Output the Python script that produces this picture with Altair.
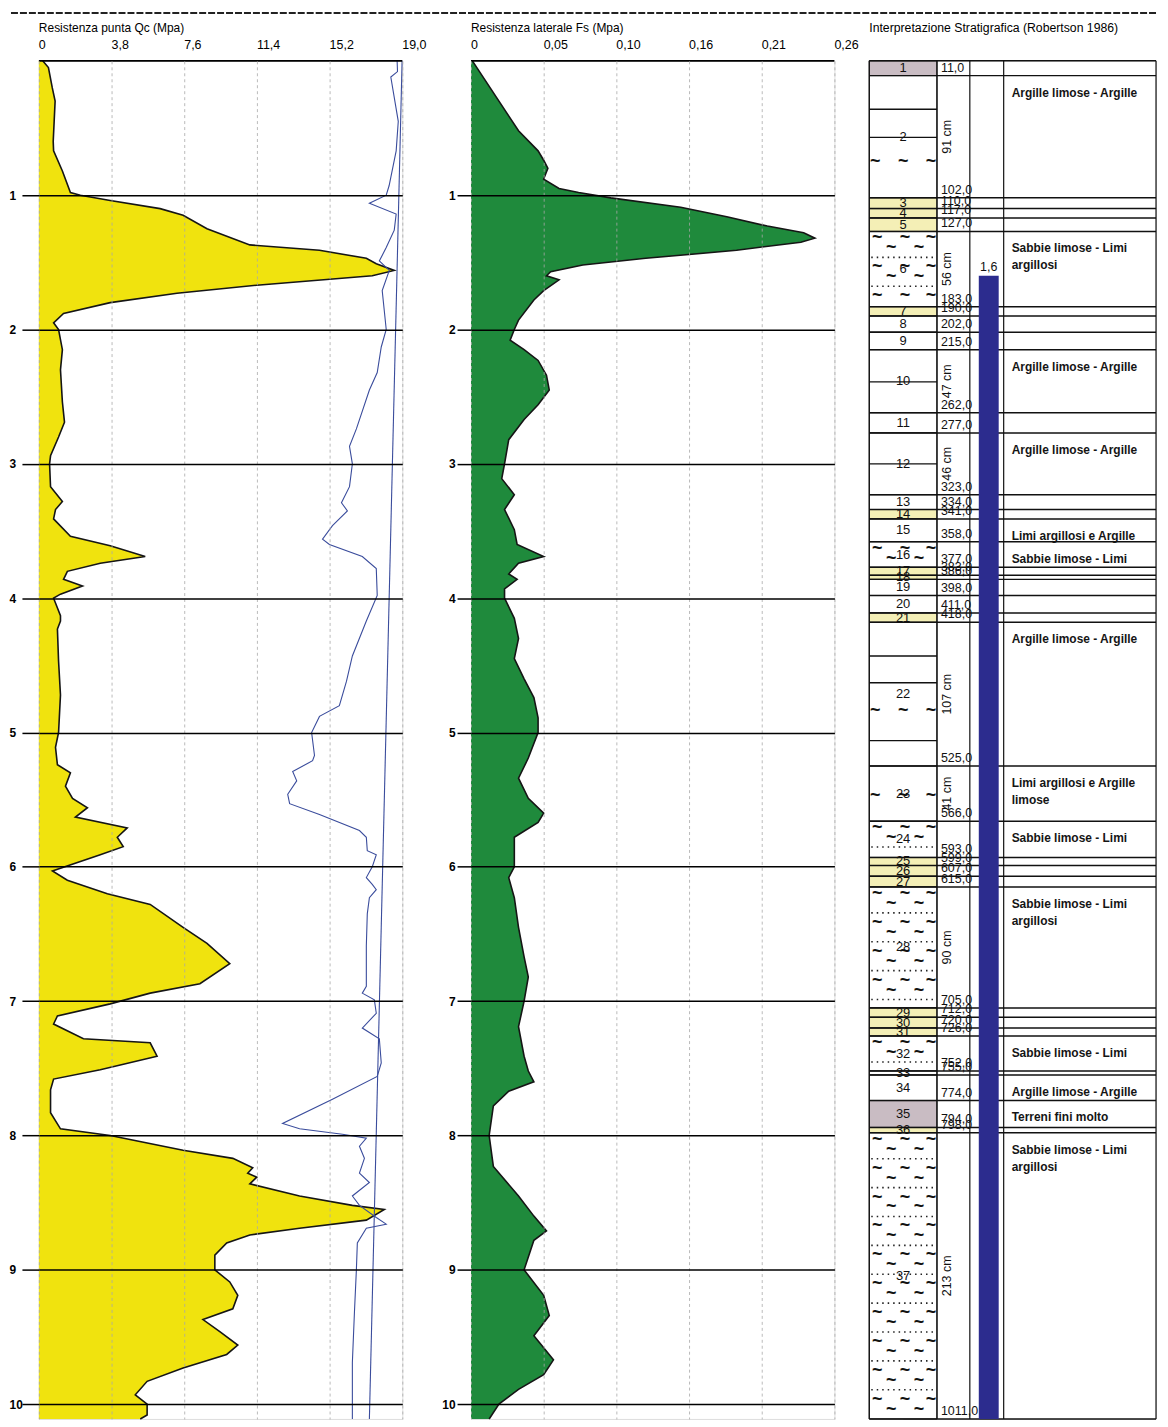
import altair as alt
import pandas as pd

FONT = "Liberation Sans"
PXM = 134.9          # layout constant: pixels per metre of depth
H = 1364
W1, W2 = 365, 365
W3_FULL = 288        # stratigraphic column drawn width
OFF = -34            # column drawn starting 34px left of its panel origin
W3 = W3_FULL + OFF

DEPTH_MAX = 10.11
DEPTH_TICKS = [1, 2, 3, 4, 5, 6, 7, 8, 9, 10]

TITLE_QC = "Resistenza punta Qc (Mpa)"
TITLE_FS = "Resistenza laterale Fs (Mpa)"
TITLE_STRAT = "Interpretazione Stratigrafica (Robertson 1986)"

QC_TICKS = [0, 3.8, 7.6, 11.4, 15.2, 19.0]
QC_TICK_LABELS = ["0", "3,8", "7,6", "11,4", "15,2", "19,0"]
FS_TICKS = [0, 0.052, 0.104, 0.156, 0.208, 0.26]
FS_TICK_LABELS = ["0", "0,05", "0,10", "0,16", "0,21", "0,26"]

# ---- cone resistance Qc (MPa) vs depth (m)
QC_DEPTH = [0.00, 0.05, 0.20, 0.30, 0.45, 0.60, 0.67, 0.82, 0.98, 1.00, 1.04, 1.10, 1.15, 1.25,
            1.37, 1.41, 1.47, 1.51, 1.56, 1.60, 1.67, 1.73, 1.80, 1.88, 1.95, 2.00, 2.15, 2.30,
            2.54, 2.69, 2.80, 2.94, 3.00, 3.17, 3.28, 3.34, 3.41, 3.54, 3.61, 3.69, 3.74, 3.80,
            3.86, 3.91, 3.97, 4.00, 4.13, 4.17, 4.23, 4.47, 4.72, 5.00, 5.11, 5.24, 5.30, 5.40,
            5.49, 5.56, 5.63, 5.71, 5.78, 5.85, 5.91, 6.03, 6.10, 6.20, 6.28, 6.45, 6.57, 6.72,
            6.87, 6.94, 7.02, 7.11, 7.17, 7.28, 7.31, 7.41, 7.51, 7.58, 7.66, 7.83, 7.95, 8.00,
            8.11, 8.17, 8.24, 8.28, 8.31, 8.36, 8.45, 8.52, 8.55, 8.63, 8.69, 8.74, 8.80, 8.89,
            9.00, 9.09, 9.19, 9.29, 9.37, 9.46, 9.56, 9.63, 9.73, 9.83, 9.93, 10.00, 10.08, 10.11]
QC_VALUE = [0.20, 0.50, 0.70, 0.85, 0.80, 0.75, 0.77, 1.23, 1.65, 2.17, 3.73, 6.34, 7.54, 8.79,
            11.03, 14.67, 17.12, 17.64, 18.58, 17.43, 11.39, 7.22, 3.73, 1.29, 0.77, 1.03, 1.23, 1.13,
            1.23, 1.34, 1.03, 0.61, 0.56, 0.61, 1.23, 0.87, 0.77, 1.65, 3.73, 5.56, 3.21, 1.49,
            1.29, 2.28, 1.13, 0.77, 1.13, 1.13, 0.97, 1.03, 1.13, 1.03, 0.87, 0.97, 1.65, 1.39,
            1.76, 2.54, 1.91, 4.62, 4.10, 4.41, 3.21, 0.71, 1.49, 3.58, 5.82, 7.54, 8.79, 9.98,
            8.42, 5.82, 3.73, 0.97, 0.77, 2.33, 5.82, 6.18, 3.21, 0.77, 0.61, 0.61, 1.13, 3.73,
            7.54, 10.14, 11.18, 10.92, 11.39, 11.03, 13.63, 16.39, 18.06, 17.12, 13.63, 11.03, 9.82, 9.20,
            9.20, 9.98, 10.40, 10.14, 8.58, 9.46, 10.40, 9.82, 7.54, 5.66, 5.04, 5.66, 5.66, 5.30]

# ---- second trace drawn in blue on the Qc panel (same axis units)
BLUE_DEPTH = [0.00, 0.08, 0.12, 0.45, 0.67, 0.93, 1.00, 1.06, 1.14, 1.26, 1.39, 1.49, 1.56, 1.71,
              2.00, 2.13, 2.32, 2.45, 2.74, 2.87, 3.00, 3.17, 3.29, 3.35, 3.46, 3.56, 3.60, 3.69,
              3.78, 3.98, 4.17, 4.43, 4.62, 4.80, 4.88, 5.00, 5.17, 5.21, 5.29, 5.36, 5.46, 5.53,
              5.61, 5.73, 5.78, 5.88, 5.91, 6.00, 6.08, 6.13, 6.17, 6.23, 6.35, 6.59, 6.89, 6.94,
              6.99, 7.09, 7.20, 7.28, 7.46, 7.56, 7.73, 7.91, 7.95, 7.99, 8.02, 8.08, 8.17, 8.28,
              8.35, 8.45, 8.52, 8.61, 8.66, 8.69, 8.80, 9.00, 9.31, 9.69, 10.11]
BLUE_VALUE = [18.73, 18.75, 18.40, 18.79, 18.68, 18.31, 18.16, 17.28, 18.68, 18.58, 18.16, 17.80, 18.32, 17.95,
              18.16, 17.90, 17.69, 17.28, 16.60, 16.24, 16.39, 16.24, 15.82, 16.13, 15.35, 14.83, 15.19, 16.91,
              17.64, 17.69, 17.12, 16.39, 16.08, 15.71, 14.67, 14.26, 14.41, 14.31, 13.27, 13.48, 13.01, 13.11,
              14.67, 16.76, 17.12, 17.17, 17.64, 17.43, 17.12, 17.43, 17.64, 17.28, 17.17, 17.12, 17.12, 16.91,
              17.54, 17.64, 16.91, 17.80, 17.90, 17.69, 15.35, 12.74, 13.63, 15.87, 17.12, 16.76, 17.02, 16.76,
              17.28, 16.39, 16.76, 17.64, 18.16, 17.12, 16.65, 16.60, 16.50, 16.39, 16.39]

TREND_DEPTH = [0.0, 10.11]
TREND_VALUE = [18.99, 17.28]

# ---- sleeve friction Fs (MPa) vs depth (m)
FS_DEPTH = [0.00, 0.30, 0.52, 0.67, 0.74, 0.80, 0.88, 0.95, 0.98, 1.02, 1.09, 1.16, 1.23, 1.28,
            1.32, 1.35, 1.41, 1.47, 1.52, 1.57, 1.60, 1.63, 1.71, 1.78, 1.93, 2.00, 2.08, 2.15,
            2.23, 2.34, 2.45, 2.56, 2.67, 2.82, 3.00, 3.11, 3.23, 3.34, 3.49, 3.60, 3.69, 3.74,
            3.82, 3.86, 3.93, 4.00, 4.15, 4.30, 4.45, 4.60, 4.74, 4.89, 5.00, 5.19, 5.34, 5.49,
            5.60, 5.67, 5.78, 5.93, 6.00, 6.08, 6.23, 6.45, 6.67, 6.82, 7.00, 7.19, 7.41, 7.52,
            7.60, 7.67, 7.78, 8.00, 8.23, 8.45, 8.60, 8.71, 8.78, 9.00, 9.19, 9.34, 9.49, 9.67,
            9.78, 9.89, 10.00, 10.11]
FS_VALUE = [0.001, 0.020, 0.034, 0.048, 0.052, 0.055, 0.052, 0.063, 0.077, 0.100, 0.150, 0.183, 0.212, 0.238,
            0.246, 0.236, 0.190, 0.125, 0.080, 0.057, 0.054, 0.063, 0.052, 0.045, 0.034, 0.031, 0.028, 0.038,
            0.048, 0.054, 0.056, 0.048, 0.038, 0.027, 0.024, 0.022, 0.031, 0.024, 0.031, 0.033, 0.052, 0.034,
            0.027, 0.033, 0.024, 0.024, 0.031, 0.034, 0.031, 0.038, 0.045, 0.048, 0.048, 0.041, 0.034, 0.041,
            0.052, 0.048, 0.031, 0.031, 0.031, 0.027, 0.031, 0.034, 0.038, 0.041, 0.038, 0.034, 0.038, 0.041,
            0.045, 0.027, 0.016, 0.013, 0.016, 0.034, 0.045, 0.054, 0.045, 0.038, 0.052, 0.056, 0.045, 0.059,
            0.052, 0.034, 0.020, 0.013]

# ---- stratigraphy (cm)
LAYER_NUM = list(range(1, 38))
LAYER_TOP = [0, 11, 102, 110, 117, 127, 183, 190, 202, 215, 262, 277, 323, 334, 341, 358, 377, 383,
             386, 398, 411, 418, 525, 566, 593, 599, 607, 615, 705, 712, 720, 726, 752, 755, 774, 794, 798]
LAYER_BOTTOM = LAYER_TOP[1:] + [1011]
LAYER_KIND = ["fine", "clay", "yellow", "yellow", "yellow", "sand", "yellow", "plain", "plain", "plain",
              "plain", "plain", "plain", "yellow", "plain", "sand", "yellow", "yellow", "plain", "plain",
              "yellow", "clay", "clay", "sand", "yellow", "yellow", "yellow", "sand", "yellow", "yellow",
              "yellow", "sand", "sand", "plain", "fine", "yellow", "sand"]
SUBLINE_CM = [36, 57, 239, 300, 443, 463, 506]
CLAY_MARKS = [(2, 0.71), (22, 0.62), (23, 0.55)]
WATER_TABLE = 1.6

DESC_LAYER = [2, 6, 10, 12, 15, 16, 22, 23, 24, 28, 32, 34, 35, 37]
DESC_LINES = [["Argille limose - Argille"],
              ["Sabbie limose - Limi", "argillosi"],
              ["Argille limose - Argille"],
              ["Argille limose - Argille"],
              ["Limi argillosi e Argille"],
              ["Sabbie limose - Limi"],
              ["Argille limose - Argille"],
              ["Limi argillosi e Argille", "limose"],
              ["Sabbie limose - Limi"],
              ["Sabbie limose - Limi", "argillosi"],
              ["Sabbie limose - Limi"],
              ["Argille limose - Argille"],
              ["Terreni fini molto"],
              ["Sabbie limose - Limi", "argillosi"]]

YELLOW = "#f0e30e"
GREEN = "#1f8a3c"
BLUE = "#3a4c9c"
NAVY = "#2c2c8e"
KIND_DOMAIN = ["fine", "yellow", "sand", "clay", "plain"]
KIND_RANGE = ["#c9bcc3", "#f4efb6", "#ffffff", "#ffffff", "#ffffff"]


def ys():
    return alt.Scale(domain=[0, DEPTH_MAX], reverse=True, nice=False, zero=False)


def y_axis(tick, pad, align):
    return alt.Axis(values=DEPTH_TICKS, format="d", grid=True, gridColor="black", gridWidth=1.5,
                    gridOpacity=1, tickColor="black", tickSize=tick, tickWidth=1.5, domain=False,
                    labelFont=FONT, labelFontSize=12, labelFontWeight="bold", labelColor="black",
                    labelPadding=pad, labelAlign=align, title=None, zindex=1)


def curve_panel(df, ticks, labels, xmax, width, fill, title, yax, extra):
    xs = alt.Scale(domain=[0, xmax], nice=False, zero=False)
    xa = alt.Axis(orient="top", values=ticks, labels=False, ticks=False, domain=False, grid=True,
                  gridColor="#a8a8a8", gridDash=[3, 3], gridWidth=0.8, gridOpacity=1, title=None, zindex=1)
    ysc = ys()

    def X(f):
        return alt.X(f, type="quantitative", scale=xs, axis=xa)

    def Y(f):
        return alt.Y(f, type="quantitative", scale=ysc, axis=yax)

    base = alt.Chart(df)
    area = base.mark_area(orient="horizontal", color=fill, opacity=1).encode(x=X("v"), y=Y("d"))
    outline = base.mark_line(color="#151515", strokeWidth=1.6).encode(x=X("v"), y=Y("d"), order="i:Q")
    layers = [area, outline]
    for e in extra:
        layers.append(alt.Chart(e).mark_line(color=BLUE, strokeWidth=1.1).encode(
            x=X("v"), y=Y("d"), order="i:Q"))
    top = alt.Chart(pd.DataFrame({"s": [0]})).mark_rule(color="black", strokeWidth=1.6).encode(
        x=alt.value(0), x2=alt.value(width), y=alt.value(0))
    tl = alt.Chart(pd.DataFrame({"t": ticks, "lab": labels})).mark_text(
        align="left", baseline="middle", font=FONT, fontSize=12.5, color="black").encode(
        x=X("t"), y=alt.value(-16), text="lab:N")
    tt = alt.Chart(pd.DataFrame({"s": [title]})).mark_text(
        align="left", baseline="middle", font=FONT, fontSize=12, color="black").encode(
        x=alt.value(0), y=alt.value(-33), text="s:N")
    layers += [top, tl, tt]
    return layers


def line_df(d, v):
    return pd.DataFrame({"d": d, "v": v, "i": range(len(d))})


qc_df = line_df(QC_DEPTH, QC_VALUE)
fs_df = line_df(FS_DEPTH, FS_VALUE)
blue_df = line_df(BLUE_DEPTH, BLUE_VALUE)
trend_df = line_df(TREND_DEPTH, TREND_VALUE)

p1_layers = curve_panel(qc_df, QC_TICKS, QC_TICK_LABELS, 19.0, W1, YELLOW, TITLE_QC,
                        y_axis(17, 13, "left"), [blue_df, trend_df])
page_line = alt.Chart(pd.DataFrame({"s": [0]})).mark_rule(
    color="#222", strokeWidth=2, strokeDash=[7, 2]).encode(
    x=alt.value(-28), x2=alt.value(1124), y=alt.value(-48))
p1 = alt.layer(*p1_layers, page_line).properties(width=W1, height=H)

p2_layers = curve_panel(fs_df, FS_TICKS, FS_TICK_LABELS, 0.26, W2, GREEN, TITLE_FS,
                        y_axis(14, 2, "right"), [])
p2 = alt.layer(*p2_layers).properties(width=W2, height=H)

# ---------------- stratigraphic column (x positions in px from column's left edge)
C1, C2, C3, C4 = 68, 101, 135, W3_FULL
BAR_L, BAR_R = 110, 130


def px(v):
    return alt.value(v + OFF)


lay = pd.DataFrame({
    "n": LAYER_NUM,
    "top": [t / 100 for t in LAYER_TOP],
    "bot": [b / 100 for b in LAYER_BOTTOM],
    "kind": LAYER_KIND,
    "lab": [f"{b},0" for b in LAYER_BOTTOM],
})
lay["mid"] = (lay["top"] + lay["bot"]) / 2
lay["thick"] = [f"{b - t} cm" if b - t >= 40 else "" for t, b in zip(LAYER_TOP, LAYER_BOTTOM)]

ysc3 = ys()
xs3 = alt.Scale(domain=[-OFF, W3_FULL], nice=False, zero=False)


def Y3(f):
    return alt.Y(f, type="quantitative", scale=ysc3, axis=None)


def X3(f):
    return alt.X(f, type="quantitative", scale=xs3, axis=None)


fills = alt.Chart(lay).mark_rect(stroke="black", strokeWidth=1).encode(
    x=px(0), x2=px(C1), y=Y3("top"), y2="bot:Q",
    color=alt.Color("kind:N", scale=alt.Scale(domain=KIND_DOMAIN, range=KIND_RANGE), legend=None))

# sand / clay ornament generated from the layer geometry
glyphs, dots = [], []
for t, b, k in zip(LAYER_TOP, LAYER_BOTTOM, LAYER_KIND):
    tm, bm = t / 100, b / 100
    if k == "sand" and (bm - tm) * PXM > 10:
        y0 = tm - 3 / PXM
        while y0 < bm:
            if tm + 3 / PXM < y0 < bm - 3 / PXM:
                dots.append({"y": y0})
            ya_ = y0 + 10 / PXM
            yb_ = y0 + 20 / PXM
            if tm + 4 / PXM < ya_ < bm - 4 / PXM:
                for xx in (8, 36, 62):
                    glyphs.append({"px": xx, "y": ya_})
            if tm + 4 / PXM < yb_ < bm - 4 / PXM:
                for xx in (22, 50):
                    glyphs.append({"px": xx, "y": yb_})
            y0 += 29 / PXM
for n, frac in CLAY_MARKS:
    tm, bm = LAYER_TOP[n - 1] / 100, LAYER_BOTTOM[n - 1] / 100
    for xx in (6, 34, 62):
        glyphs.append({"px": xx, "y": tm + frac * (bm - tm)})
glyph_df = pd.DataFrame(glyphs)
dot_df = pd.DataFrame(dots)

glyph_layer = alt.Chart(glyph_df).mark_text(
    text="~", font=FONT, fontSize=18, fontWeight="bold", color="#111", baseline="middle").encode(
    x=X3("px"), y=Y3("y"))
dot_layer = alt.Chart(dot_df).mark_rule(color="#222", strokeWidth=1.6, strokeDash=[1.5, 4]).encode(
    x=px(2), x2=px(C1 - 2), y=Y3("y"))

sub_df = pd.DataFrame({"y": [c / 100 for c in SUBLINE_CM]})
sub_layer = alt.Chart(sub_df).mark_rule(color="#111", strokeWidth=1.4).encode(
    x=px(0), x2=px(C1), y=Y3("y"))

bounds_df = pd.DataFrame({"y": [0] + [b / 100 for b in LAYER_BOTTOM]})
bound_layer = alt.Chart(bounds_df).mark_rule(color="#111", strokeWidth=1.5).encode(
    x=px(0), x2=px(C4), y=Y3("y"))

vlines = []
for xx in (0, C1, C2, C3, C4):
    vlines.append(alt.Chart(pd.DataFrame({"s": [0]})).mark_rule(color="#111", strokeWidth=1.2).encode(
        x=px(xx), y=alt.value(0), y2=alt.value(H)))

depth_labels = alt.Chart(lay).mark_text(
    align="left", baseline="bottom", font=FONT, fontSize=12.5, color="#111", dy=-1).encode(
    x=px(72), y=Y3("bot"), text="lab:N")
thick_labels = alt.Chart(lay[lay["thick"] != ""]).mark_text(
    align="center", baseline="middle", font=FONT, fontSize=12.5, color="#111", angle=270).encode(
    x=px(78), y=Y3("mid"), text="thick:N")
num_labels = alt.Chart(lay).mark_text(
    align="center", baseline="middle", font=FONT, fontSize=13, color="#111").encode(
    x=px(C1 / 2), y=Y3("mid"), text="n:N")

wt_df = pd.DataFrame({"w": [WATER_TABLE], "b": [DEPTH_MAX], "lab": [str(WATER_TABLE).replace(".", ",")]})
bar = alt.Chart(wt_df).mark_rect(color=NAVY).encode(
    x=px(BAR_L), x2=px(BAR_R), y=Y3("w"), y2="b:Q")
wt_label = alt.Chart(wt_df).mark_text(
    align="center", baseline="bottom", font=FONT, fontSize=12.5, color="#111", dy=-2).encode(
    x=px((BAR_L + BAR_R) / 2), y=Y3("w"), text="lab:N")

desc_rows = []
for n, lines in zip(DESC_LAYER, DESC_LINES):
    for j, s in enumerate(lines):
        desc_rows.append({"y": LAYER_TOP[n - 1] / 100 + (17 + 17 * j) / PXM, "s": s})
desc_df = pd.DataFrame(desc_rows)
desc = alt.Chart(desc_df).mark_text(
    align="left", baseline="middle", font=FONT, fontSize=12, fontWeight="bold", color="#151515").encode(
    x=px(C3 + 8), y=Y3("y"), text="s:N")

title3 = alt.Chart(pd.DataFrame({"s": [TITLE_STRAT]})).mark_text(
    align="left", baseline="middle", font=FONT, fontSize=12.3, color="black").encode(
    x=px(0), y=alt.value(-33), text="s:N")

p3 = alt.layer(fills, glyph_layer, dot_layer, sub_layer, bound_layer, *vlines, depth_labels,
               thick_labels, num_labels, bar, wt_label, desc, title3).properties(width=W3, height=H)

chart = alt.hconcat(p1, p2, p3, spacing=69, bounds="flush").properties(
    padding={"left": 0, "top": 0, "right": 0, "bottom": 0}
).configure_view(stroke=None).configure(background="white")

chart.save("out.html", embed_options={"renderer": "svg", "actions": False})
